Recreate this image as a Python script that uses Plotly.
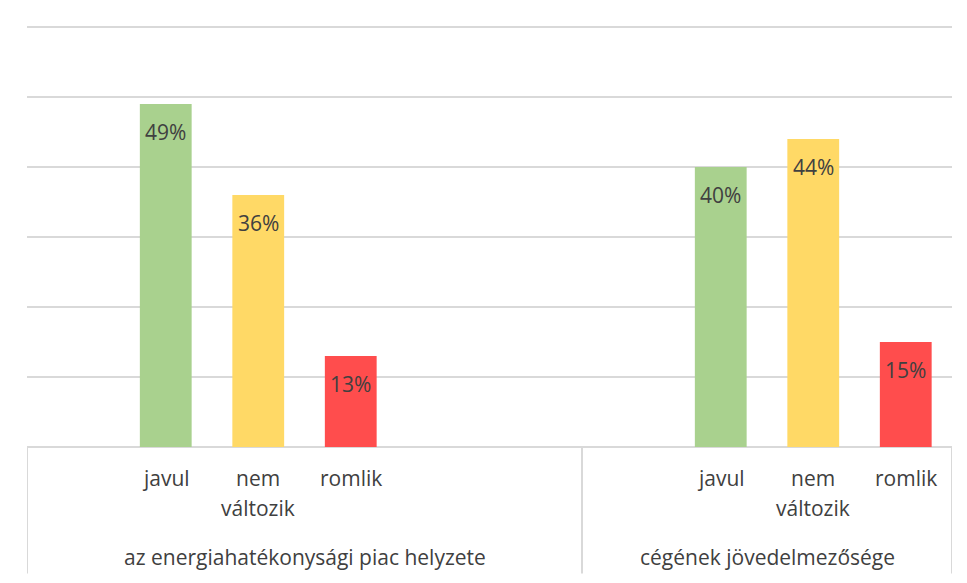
import plotly.graph_objects as go

# ---- data ----
group_names = ["az energiahatékonysági piac helyzete", "cégének jövedelmezősége"]
category_names = ["javul", "nem\nváltozik", "romlik"]
group1_values = [49, 36, 13]
group2_values = [40, 44, 15]
bar_colors = ["#A9D18E", "#FFD966", "#FF4D4D"]
# slot layout of the category axis (empty slots included, as in the source chart)
group1_slots = ["", "javul", "nem\nváltozik", "romlik", "", ""]
group2_slots = ["", "javul", "nem\nváltozik", "romlik"]

TEXT = "#404040"
GRID = "#D9D9D9"
FONT = "Open Sans"
FS = 21

fig = go.Figure()
annotations = []

groups = [(group_names[0], group1_slots, group1_values),
          (group_names[1], group2_slots, group2_values)]

offset = 0
separators = [0]
for gname, slots, vals in groups:
    xs, ys, cs = [], [], []
    for i, s in enumerate(slots):
        if s in category_names:
            k = category_names.index(s)
            xs.append(offset + i + 0.5)
            ys.append(vals[k])
            cs.append(bar_colors[k])
        # tick labels
        if s:
            for li, line in enumerate(s.split("\n")):
                annotations.append(dict(x=offset + i + 0.5, y=0, xref="x", yref="paper",
                                        text=line, showarrow=False, yanchor="middle",
                                        yshift=-31 - 30 * li,
                                        font=dict(family=FONT, size=FS, color=TEXT)))
    fig.add_trace(go.Bar(x=xs, y=ys, marker=dict(color=cs, line=dict(width=0)),
                         width=0.56, showlegend=False, hoverinfo="skip"))
    for x, y in zip(xs, ys):
        annotations.append(dict(x=x, y=y, xref="x", yref="y", text=f"{y}%",
                                showarrow=False, yanchor="middle", yshift=-28,
                                font=dict(family=FONT, size=FS, color=TEXT)))
    annotations.append(dict(x=offset + len(slots) / 2, y=0, xref="x", yref="paper",
                            text=gname, showarrow=False, yanchor="middle", yshift=-110,
                            font=dict(family=FONT, size=FS, color=TEXT)))
    offset += len(slots)
    separators.append(offset)

shapes = [dict(type="line", xref="x", yref="paper", x0=s, x1=s, y0=0, y1=-0.3,
               line=dict(color=GRID, width=2)) for s in separators]

fig.update_layout(
    width=959, height=575,
    margin=dict(l=19, r=15, t=17, b=136),
    paper_bgcolor="white", plot_bgcolor="white",
    barmode="overlay",
    xaxis=dict(range=[0, offset], showticklabels=False, showgrid=False, zeroline=False,
               showline=False, ticks="", fixedrange=True),
    yaxis=dict(range=[0, 60.3], dtick=10, showticklabels=False, showgrid=True,
               gridcolor=GRID, gridwidth=2, zeroline=True, zerolinecolor=GRID,
               zerolinewidth=2, showline=False, ticks=""),
    annotations=annotations,
    shapes=shapes,
)

fig.write_html("out.html")
